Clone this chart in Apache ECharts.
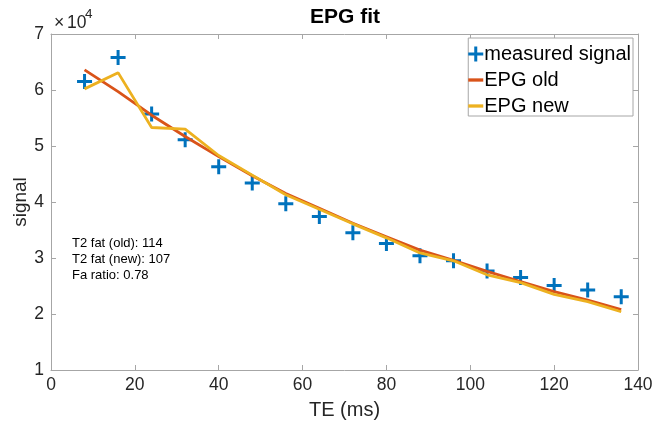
<!DOCTYPE html>
<html>
<head>
<meta charset="utf-8">
<script src="https://cdn.jsdelivr.net/npm/echarts@6/dist/echarts.min.js"></script>
<style>html,body{margin:0;padding:0;background:#fff}#c{width:657px;height:431px}</style>
</head>
<body>
<div id="c"></div>
<script>
var te = [8, 16, 24, 32, 40, 48, 56, 64, 72, 80, 88, 96, 104, 112, 120, 128, 136];
var measured = [61500, 65800, 55700, 51100, 46300, 43400, 39700, 37400, 34500, 32600, 30400, 29500, 27700, 26500, 25100, 24300, 23100];
var epgOld = [63600, 59700, 55500, 51700, 48100, 44700, 41500, 38900, 36200, 33800, 31400, 29600, 27600, 25800, 24000, 22500, 20800];
var epgNew = [60200, 63100, 53300, 53000, 48300, 44800, 41300, 38700, 36100, 33600, 30900, 29500, 27000, 25600, 23500, 22200, 20400];
var xTicks = [0, 20, 40, 60, 80, 100, 120, 140];
var yTicks = [1, 2, 3, 4, 5, 6, 7];
var notes = ['T2 fat (old): 114', 'T2 fat (new): 107', 'Fa ratio: 0.78'];

var FONT = 'Liberation Sans, Arial, Helvetica, sans-serif';
var AX = '#a6a6a6', TXT = '#262626';
var PLUS = 'path://M4,0 H6 V4 H10 V6 H6 V10 H4 V6 H0 V4 H4 Z';
var BAR = 'path://M0,3.9 H10 V6.1 H0 Z';
function pairs(ys){ return te.map(function(t,i){ return [t, ys[i]]; }); }

var chart = echarts.init(document.getElementById('c'), null, {renderer:'canvas'});
var axBase = {
  axisLine:{show:true, onZero:false, lineStyle:{color:AX, width:1}},
  axisTick:{show:true, inside:true, length:5, lineStyle:{color:AX}},
  splitLine:{show:false}
};
chart.setOption({
  animation:false,
  backgroundColor:'#fff',
  grid:{left:51, right:19, top:34, bottom:61, containLabel:false, outerBoundsMode:'none'},
  legend:{
    orient:'vertical', right:24, top:38, padding:[6,2,0,0],
    borderColor:AX, borderWidth:1, backgroundColor:'#fff',
    itemWidth:15, itemHeight:15, itemGap:6,
    textStyle:{fontFamily:FONT, fontSize:20, lineHeight:18, color:'#000', padding:[0,0,0,-4]},
    data:[{name:'measured signal', icon:PLUS}, {name:'EPG old', icon:BAR}, {name:'EPG new', icon:BAR}]
  },
  xAxis:[
    Object.assign({type:'value', min:0, max:140, interval:20, position:'bottom',
      name:'TE (ms)', nameLocation:'middle', nameGap:30, nameMoveOverlap:false,
      nameTextStyle:{fontFamily:FONT, fontSize:20, color:TXT},
      axisLabel:{fontFamily:FONT, fontSize:17.5, color:TXT, margin:6,
        formatter:function(v){ return xTicks.indexOf(v)>=0 ? String(v) : ''; }}}, axBase),
    Object.assign({type:'value', min:0, max:140, interval:20, position:'top',
      axisLabel:{show:false}}, axBase)
  ],
  yAxis:[
    Object.assign({type:'value', min:10000, max:70000, interval:10000, position:'left',
      name:'signal', nameLocation:'middle', nameGap:21, nameRotate:90, nameMoveOverlap:false,
      nameTextStyle:{fontFamily:FONT, fontSize:19, color:TXT},
      axisLabel:{fontFamily:FONT, fontSize:17.5, color:TXT, margin:7,
        formatter:function(v){ var k=v/10000; return yTicks.indexOf(k)>=0 ? String(k) : ''; }}}, axBase),
    Object.assign({type:'value', min:10000, max:70000, interval:10000, position:'right',
      axisLabel:{show:false}}, axBase)
  ],
  series:[
    {name:'measured signal', type:'scatter', data:pairs(measured), symbol:PLUS, symbolSize:15,
      itemStyle:{color:'#0072BD', opacity:1}, z:2},
    {name:'EPG old', type:'line', data:pairs(epgOld), showSymbol:false, symbol:'none',
      lineStyle:{color:'#D95319', width:2.8}, itemStyle:{color:'#D95319'}, z:3},
    {name:'EPG new', type:'line', data:pairs(epgNew), showSymbol:false, symbol:'none',
      lineStyle:{color:'#EDB120', width:2.8}, itemStyle:{color:'#EDB120'}, z:4}
  ],
  graphic:[
    {type:'text', x:345, y:17, style:{text:'EPG fit', fontFamily:FONT, fontSize:21, fontWeight:'bold',
      fill:'#000', align:'center', verticalAlign:'middle'}},
    {type:'text', left:54, top:14, style:{text:'×', fontFamily:FONT, fontSize:17.5, fill:TXT}},
    {type:'text', left:67, top:14, style:{text:'10', fontFamily:FONT, fontSize:17.5, fill:TXT}},
    {type:'text', left:85, top:7, style:{text:'4', fontFamily:FONT, fontSize:13.5, fill:TXT}},
    {type:'text', left:72, top:235, style:{text:notes.join('\n'), fontFamily:FONT, fontSize:13,
      lineHeight:16.2, fill:'#000'}}
  ]
});
</script>
</body>
</html>
